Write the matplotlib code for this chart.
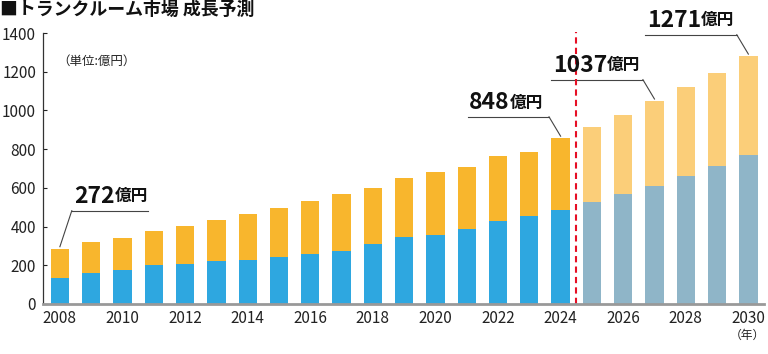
import numpy as np
import matplotlib.pyplot as plt

plt.rcParams['font.family'] = ['Noto Sans CJK JP', 'DejaVu Sans']

# data (億円)
years = list(range(2008, 2031))
totals = [282, 320, 342, 379, 403, 434, 465, 494, 534, 568, 601, 652,
          680, 709, 764, 787, 857, 916, 976, 1049, 1121, 1192, 1281]
lower = [136, 160, 177, 200, 208, 220, 229, 241, 260, 275, 310, 344,
         358, 389, 429, 456, 486, 525, 567, 611, 660, 713, 770]
last_actual = 2024
tick_years = list(range(2008, 2031, 2))
callout_years = [2008, 2024, 2027, 2030]
callout_labels = ['272', '848', '1037', '1271']

# colours
c_low, c_up = '#2ea7e0', '#f8b62d'
c_low_f, c_up_f = '#8fb5c8', '#fbce79'

upper = [t - l for t, l in zip(totals, lower)]
low_cols = [c_low if y <= last_actual else c_low_f for y in years]
up_cols = [c_up if y <= last_actual else c_up_f for y in years]

fig = plt.figure(figsize=(7.68, 3.54), dpi=100)
ax = fig.add_axes([43 / 768, 1 - 304 / 354, 721 / 768, 271 / 354])

ax.bar(years, lower, width=0.585, color=low_cols, zorder=2)
ax.bar(years, upper, bottom=lower, width=0.585, color=up_cols, zorder=2)

ax.vlines(last_actual + 0.5, 0, 1407, colors='#e60f25', linewidth=1.5,
          linestyles=(0, (3, 2)), zorder=3, clip_on=False)

ax.set_xlim(2007.46, 2030.5)
ax.set_ylim(0, 1400)
ax.set_yticks(range(0, 1401, 200))
ax.set_xticks(tick_years)
ax.tick_params(axis='y', direction='in', length=3, width=0.8, pad=5,
               labelsize=11, colors='#222')
ax.tick_params(axis='x', length=0, pad=4, labelsize=11, labelcolor='#222')

for s in ['top', 'right']:
    ax.spines[s].set_visible(False)
ax.spines['left'].set_color('#333')
ax.spines['left'].set_linewidth(0.9)
ax.spines['bottom'].set_color('#999')
ax.spines['bottom'].set_linewidth(2)
ax.spines['bottom'].set_zorder(4)

# callouts: leader from bar top, elbow, underline, bold label above
left_span = [-0.38, 2.6, 2.93, 2.92]
right_span = [2.43, 0, 0, 0]
for yr, lab, ls, rs in zip(callout_years, callout_labels, left_span, right_span):
    top = totals[years.index(yr)]
    if yr == 2008:
        ex, ey = yr + 0.38, top + 200
        ax.plot([yr, ex], [top + 14, ey], color='#444', lw=0.8, clip_on=False)
        ax.plot([ex, ex + rs], [ey, ey], color='#444', lw=0.8, clip_on=False)
        tx = ex + 0.08
    else:
        ex, ey = yr - 0.37, top + 110
        ax.plot([yr, ex], [top + 10, ey], color='#444', lw=0.8, clip_on=False)
        ax.plot([ex - ls, ex], [ey, ey], color='#444', lw=0.8, clip_on=False)
        tx = ex - ls + 0.05
    t = ax.text(tx, ey + 16, lab, fontsize=16.5, fontweight='bold',
                color='#111', ha='left', va='bottom', clip_on=False)
    ax.annotate('億円', xy=(1, 0), xycoords=t, xytext=(0, 1.6),
                textcoords='offset points', fontsize=12, fontweight='bold',
                color='#111', ha='left', va='bottom')

fig.text(0.0, 1 - 0.5 / 354, '■トランクルーム市場 成長予測', fontsize=12.9,
         fontweight='bold', color='#111', ha='left', va='top')
fig.text(57 / 768, 1 - 61 / 354, '（単位:億円）', fontsize=9, color='#222',
         ha='left', va='center')
fig.text(747 / 768, 1 - 335 / 354, '（年）', fontsize=8.5, color='#222',
         ha='center', va='center')

fig.savefig('out.png', dpi=100)
